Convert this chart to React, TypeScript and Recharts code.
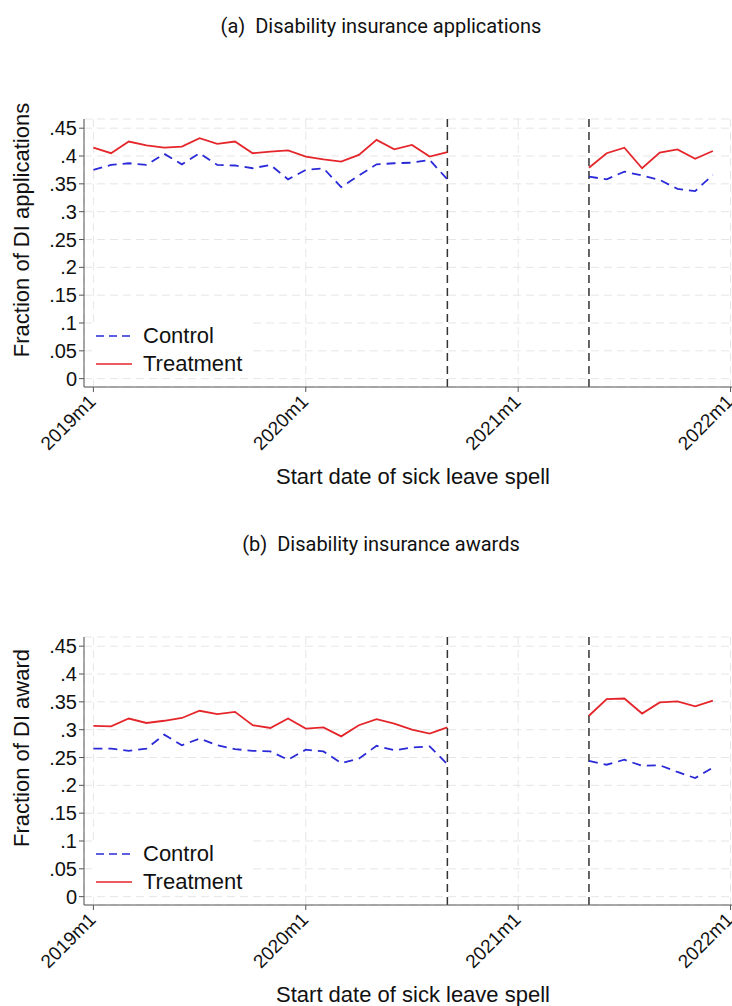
import React from 'react';
import { LineChart, Line, XAxis, YAxis, CartesianGrid, ReferenceLine, Legend } from 'recharts';

// month index: 0 = 2019m1
const monthIndex = [
  0, 1, 2, 3, 4, 5, 6, 7, 8, 9, 10, 11, 12, 13, 14, 15, 16, 17, 18, 19, 20,
  28, 29, 30, 31, 32, 33, 34, 35,
];
const xTickValues = [0, 12, 24, 36];
const xTickLabels = ['2019m1', '2020m1', '2021m1', '2022m1'];
const yTickValues = [0, 0.05, 0.1, 0.15, 0.2, 0.25, 0.3, 0.35, 0.4, 0.45];
const cutoffMonths = [20, 28];

const applControl = [
  0.375, 0.384, 0.387, 0.384, 0.404, 0.385, 0.405, 0.384, 0.383, 0.378, 0.384,
  0.358, 0.375, 0.378, 0.344, 0.365, 0.385, 0.387, 0.388, 0.393, 0.358,
  0.363, 0.358, 0.372, 0.365, 0.357, 0.341, 0.337, 0.366,
];
const applTreatment = [
  0.415, 0.405, 0.426, 0.419, 0.415, 0.417, 0.432, 0.422, 0.426, 0.405, 0.408,
  0.410, 0.399, 0.394, 0.390, 0.402, 0.429, 0.412, 0.420, 0.399, 0.407,
  0.379, 0.405, 0.415, 0.378, 0.406, 0.412, 0.395, 0.409,
];
const awardControl = [
  0.266, 0.266, 0.262, 0.266, 0.291, 0.272, 0.284, 0.272, 0.265, 0.262, 0.261,
  0.246, 0.264, 0.261, 0.240, 0.248, 0.271, 0.263, 0.268, 0.270, 0.238,
  0.244, 0.237, 0.246, 0.235, 0.236, 0.224, 0.213, 0.232,
];
const awardTreatment = [
  0.307, 0.306, 0.320, 0.312, 0.316, 0.321, 0.334, 0.328, 0.332, 0.308, 0.303,
  0.320, 0.302, 0.304, 0.288, 0.308, 0.319, 0.311, 0.300, 0.293, 0.304,
  0.325, 0.355, 0.356, 0.329, 0.349, 0.351, 0.342, 0.352,
];

const BLUE = '#2a2ad8';
const RED = '#e4262b';
const AXIS = '#555';
const FONT = '"Liberation Sans", Arial, sans-serif';

function buildRows(control: number[], treatment: number[]) {
  const rows: { month: number; control: number | null; treatment: number | null }[] = [];
  monthIndex.forEach((m, i) => {
    // a null row breaks the lines over the gap
    if (i > 0 && m - monthIndex[i - 1] > 1) {
      rows.push({ month: (m + monthIndex[i - 1]) / 2, control: null, treatment: null });
    }
    rows.push({ month: m, control: control[i], treatment: treatment[i] });
  });
  return rows;
}

const fmtY = (v: number) => (v === 0 ? '0' : String(+v.toFixed(2)).replace(/^0/, ''));

const XTick = ({ x, y, payload }: any) => {
  const idx = xTickValues.indexOf(payload.value);
  const ax = x - 1;
  const ay = y + 4;
  return (
    <text
      x={ax}
      y={ay}
      dy="0.35em"
      transform={`rotate(-45 ${ax} ${ay})`}
      textAnchor="end"
      fill="#111"
      fontSize={19}
      fontFamily={FONT}
    >
      {xTickLabels[idx]}
    </text>
  );
};

const LegendBox = () => (
  <div style={{ background: '#fff', padding: '0 8px 0 4px', fontFamily: FONT, fontSize: 22, color: '#111', lineHeight: '28px' }}>
    {[
      { name: 'Control', color: BLUE, dash: '8 5' },
      { name: 'Treatment', color: RED, dash: undefined },
    ].map((s) => (
      <div key={s.name} style={{ display: 'flex', alignItems: 'center' }}>
        <svg width={36} height={10}>
          <line x1={0} y1={5} x2={36} y2={5} stroke={s.color} strokeWidth={1.5} strokeDasharray={s.dash} />
        </svg>
        <span style={{ marginLeft: 11 }}>{s.name}</span>
      </div>
    ))}
  </div>
);

function Panel({ title, yLabel, control, treatment, top }: any) {
  const rows = buildRows(control, treatment);
  return (
    <div style={{ position: 'absolute', left: 0, top, width: 760, height: 500 }}>
      <div
        style={{
          position: 'absolute', left: 0, top: 14, width: 762, textAlign: 'center',
          fontFamily: 'Roboto, sans-serif', fontSize: 20, color: '#111', whiteSpace: 'pre',
        }}
      >
        {title}
      </div>
      <div
        style={{
          position: 'absolute', left: 22, top: 230, transform: 'translate(-50%, -50%) rotate(-90deg)',
          whiteSpace: 'nowrap', fontFamily: FONT, fontSize: 22, color: '#111',
        }}
      >
        {yLabel}
      </div>
      <div
        style={{
          position: 'absolute', left: 0, top: 466, width: 826, textAlign: 'center',
          fontFamily: FONT, fontSize: 22, lineHeight: '22px', color: '#111',
        }}
      >
        Start date of sick leave spell
      </div>
      <LineChart width={760} height={500} data={rows} margin={{ top: 63, right: 19, bottom: 43, left: 0 }}>
        <CartesianGrid stroke="#e6e6e6" strokeDasharray="8 5" />
        <XAxis
          dataKey="month"
          type="number"
          domain={[-0.53, 36.59]}
          allowDataOverflow
          ticks={xTickValues}
          interval={0}
          height={70}
          tickSize={5}
          tick={<XTick />}
          axisLine={{ stroke: AXIS }}
          tickLine={{ stroke: AXIS }}
        />
        <YAxis
          type="number"
          domain={[-0.015, 0.4665]}
          allowDataOverflow
          ticks={yTickValues}
          interval={0}
          width={84}
          tickSize={5}
          tickFormatter={fmtY}
          tick={{ fill: '#111', fontSize: 20, fontFamily: FONT }}
          axisLine={{ stroke: AXIS }}
          tickLine={{ stroke: AXIS }}
        />
        {cutoffMonths.map((m) => (
          <ReferenceLine key={m} x={m} stroke="#333" strokeWidth={1.5} strokeDasharray="8 5" />
        ))}
        <Legend
          content={<LegendBox />}
          verticalAlign="top"
          wrapperStyle={{ position: 'absolute', left: 92, top: 322, width: 'auto' }}
        />
        <Line
          dataKey="control"
          name="Control"
          stroke={BLUE}
          strokeWidth={1.8}
          strokeDasharray="9 6"
          dot={false}
          isAnimationActive={false}
        />
        <Line
          dataKey="treatment"
          name="Treatment"
          stroke={RED}
          strokeWidth={1.8}
          dot={false}
          isAnimationActive={false}
        />
      </LineChart>
    </div>
  );
}

export default function App() {
  return (
    <div style={{ position: 'absolute', left: 0, top: 0, width: 732, height: 1006, overflow: 'hidden', background: '#fff' }}>
      <Panel
        title="(a)  Disability insurance applications"
        yLabel="Fraction of DI applications"
        control={applControl}
        treatment={applTreatment}
        top={0}
      />
      <Panel
        title="(b)  Disability insurance awards"
        yLabel="Fraction of DI award"
        control={awardControl}
        treatment={awardTreatment}
        top={518}
      />
    </div>
  );
}
